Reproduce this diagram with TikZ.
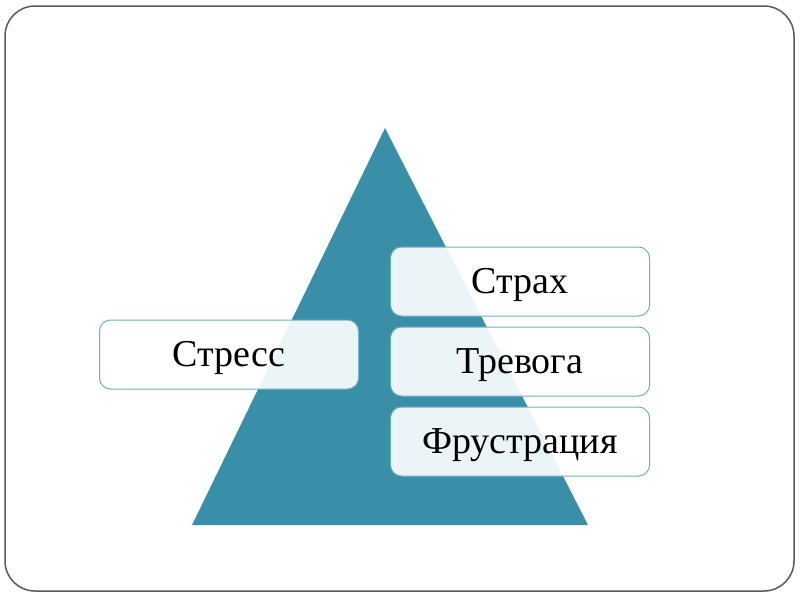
\documentclass[tikz,border=0pt]{standalone}
\usepackage{fontspec}
\setmainfont{Liberation Serif}
\definecolor{tealtri}{HTML}{3A8FA8}
\definecolor{boxline}{HTML}{6FAFC2}
\tikzset{
  levelbox/.style={draw=boxline,line width=1pt,fill=white,fill opacity=0.9,text opacity=1,
    rounded corners=11pt,minimum width=259pt,minimum height=69pt,
    text height=23pt,text depth=0pt,
    font=\fontsize{38}{42}\selectfont,text=black,inner sep=0pt}
}
\begin{document}
\begin{tikzpicture}[x=1pt,y=-1pt]
  \useasboundingbox (0,0) rectangle (800,600);
  % frame
  \draw[gray!70!black,line width=1.5pt,rounded corners=30pt] (5,6) rectangle (794,591);
  % pyramid
  \coordinate (top) at (385,128);
  \coordinate (bl) at (192,525);
  \coordinate (br) at (588,525);
  \fill[tealtri] (top)--(br)--(bl)--cycle;
  % levels
  \node[levelbox] (strah) at (520,281.5) {Страх};
  \node[levelbox] (trevoga) at (520,361.5) {Тревога};
  \node[levelbox] (frustr) at (520,441.5) {Фрустрация};
  \node[levelbox] (stress) at (229,354.5) {Стресс};
\end{tikzpicture}
\end{document}
